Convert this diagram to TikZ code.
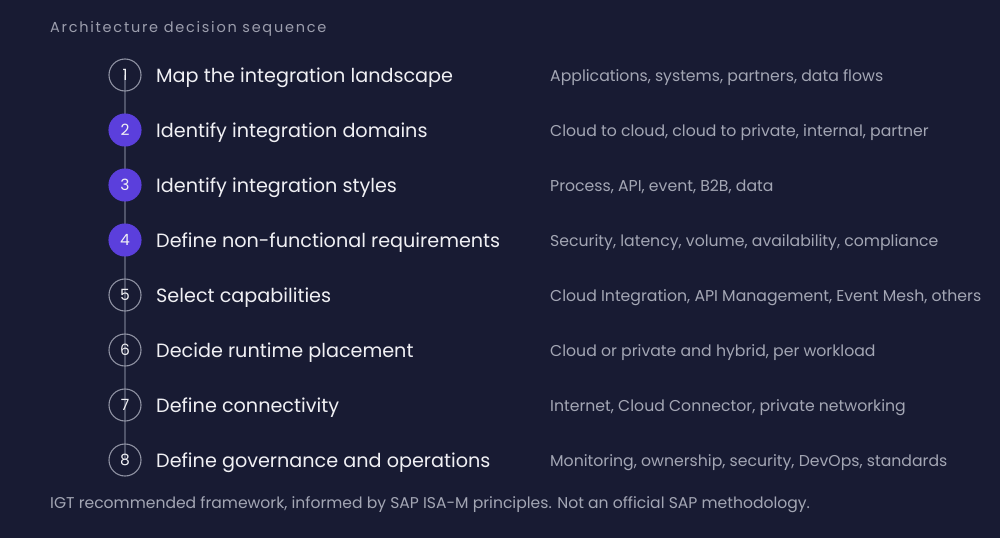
\documentclass[tikz,border=0pt]{standalone}
\usepackage{fontspec}
\setmainfont{Poppins}
\definecolor{fond}{HTML}{181B33}
\definecolor{violet}{HTML}{5B3FDC}
\definecolor{anneau}{HTML}{8F92A3}
\definecolor{lien}{HTML}{50546A}
\definecolor{blanc}{HTML}{F0F0F4}
\definecolor{gris}{HTML}{A3A6B4}
\definecolor{entete}{HTML}{9C9EAD}

\begin{document}
\begin{tikzpicture}[x=1pt,y=-1pt,
  etape/.style={circle, draw=anneau, line width=1.1pt, minimum size=32pt, inner sep=0pt, text=blanc, font=\fontsize{15.5}{15.5}\selectfont},
  active/.style={etape, fill=violet, draw=violet},
  titre/.style={anchor=base west, inner sep=0pt, text=blanc, font=\fontsize{19.2}{19.2}\selectfont},
  desc/.style={anchor=base west, inner sep=0pt, text=gris, font=\fontsize{15.7}{15.7}\selectfont},
  lien/.style={draw=lien, line width=2pt}]

 \fill[fond] (0,0) rectangle (1000,538); % le fond
 \useasboundingbox (0,0) rectangle (1000,538);

 \node [anchor=base west, inner sep=0pt, text=entete, font=\fontsize{14.5}{14.5}\selectfont\addfontfeature{LetterSpace=12}] (head) at (50,32) {Architecture decision sequence};

% les liens d'abord, sous les cercles
\coordinate (c1) at (125,75);
\coordinate (c8) at (125,460);
\draw[lien] (c1) -- (c8);

\node [etape]  (s1) at (125,75)  {1};
\node [active] (s2) at (125,130) {2};
\node [active] (s3) at (125,185) {3};
\node [active] (s4) at (125,240) {4};
\node [etape]  (s5) at (125,295) {5};
\node [etape]  (s6) at (125,350) {6};
\node [etape]  (s7) at (125,405) {7};
\node [etape]  (s8) at (125,460) {8};

\node [titre] (t1) at (156,82)  {Map the integration landscape};
\node [titre] (t2) at (156,137) {Identify integration domains};
\node [titre] (t3) at (156,192) {Identify integration styles};
\node [titre] (t4) at (156,247) {Define non-functional requirements};
\node [titre] (t5) at (156,302) {Select capabilities};
\node [titre] (t6) at (156,357) {Decide runtime placement};
\node [titre] (t7) at (156,412) {Define connectivity};
\node [titre] (t8) at (156,467) {Define governance and operations};

\node [desc] (d1) at (550,81.5)  {Applications, systems, partners, data flows};
\node [desc] (d2) at (550,136.5) {Cloud to cloud, cloud to private, internal, partner};
\node [desc] (d3) at (550,191.5) {Process, API, event, B2B, data};
\node [desc] (d4) at (550,246.5) {Security, latency, volume, availability, compliance};
\node [desc] (d5) at (550,301.5) {Cloud Integration, API Management, Event Mesh, others};
\node [desc] (d6) at (550,356.5) {Cloud or private and hybrid, per workload};
\node [desc] (d7) at (550,411.5) {Internet, Cloud Connector, private networking};
\node [desc] (d8) at (550,466.5) {Monitoring, ownership, security, DevOps, standards};

\node [anchor=base west, inner sep=0pt, text=gris, font=\fontsize{15.6}{15.6}\selectfont] (foot) at (50,508) {IGT recommended framework, informed by SAP ISA-M principles. Not an official SAP methodology.};
\end{tikzpicture}
\end{document}
